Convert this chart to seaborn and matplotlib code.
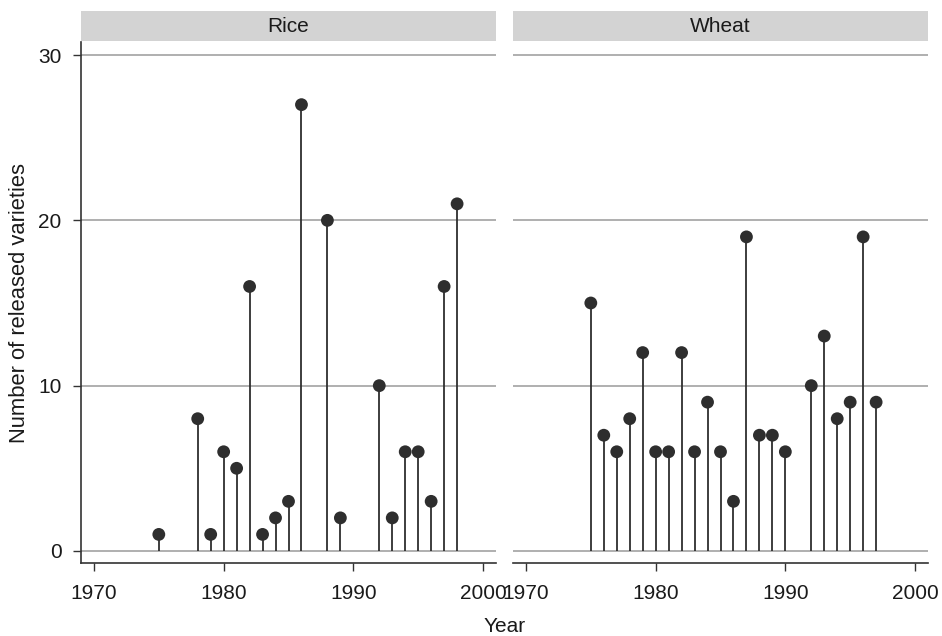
import matplotlib
matplotlib.use("Agg")
import matplotlib.pyplot as plt
import seaborn as sns
import pandas as pd
from matplotlib.patches import Rectangle

rice_years = [1975, 1978, 1979, 1980, 1981, 1982, 1983, 1984, 1985, 1986,
              1988, 1989, 1992, 1993, 1994, 1995, 1996, 1997, 1998]
rice_counts = [1, 8, 1, 6, 5, 16, 1, 2, 3, 27, 20, 2, 10, 2, 6, 6, 3, 16, 21]

wheat_years = [1975, 1976, 1977, 1978, 1979, 1980, 1981, 1982, 1983, 1984, 1985,
               1986, 1987, 1988, 1989, 1990, 1992, 1993, 1994, 1995, 1996, 1997]
wheat_counts = [15, 7, 6, 8, 12, 6, 6, 12, 6, 9, 6, 3, 19, 7, 7, 6, 10, 13, 8, 9, 19, 9]

panels = ["Rice", "Wheat"]
x_ticks = [1970, 1980, 1990, 2000]
y_ticks = [0, 10, 20, 30]

df = pd.concat([
    pd.DataFrame({"crop": "Rice", "year": rice_years, "n": rice_counts}),
    pd.DataFrame({"crop": "Wheat", "year": wheat_years, "n": wheat_counts}),
], ignore_index=True)

sns.set_theme(style="white")
plt.rcParams["font.family"] = ["Liberation Sans", "DejaVu Sans"]

W, H = 942, 636
g = sns.FacetGrid(df, col="crop", col_order=panels, sharex=True, sharey=True,
                  height=H / 100, aspect=(W / 2) / H, despine=False)
fig = g.figure
fig.set_size_inches(W / 100, H / 100)
fig.set_dpi(100)

STEM = "#2e2e2e"
GRID = "#9a9a9a"
TXT = "#1a1a1a"
FS = 15


def stems(data, **kw):
    ax = plt.gca()
    for yv in y_ticks:
        ax.axhline(yv, color=GRID, lw=1.1, zorder=0)
    ax.vlines(data["year"], 0, data["n"], color=STEM, lw=1.3, zorder=2)
    sns.scatterplot(data=data, x="year", y="n", ax=ax, color=STEM, s=85,
                    edgecolor="none", zorder=3, legend=False)


g.map_dataframe(stems)

bottom_px, top_px = 563, 42
lefts = [(81, 496), (513, 928)]
for i, ax in enumerate(g.axes.flat):
    l, r = lefts[i]
    ax.set_position([l / W, (H - bottom_px) / H, (r - l) / W, (bottom_px - top_px) / H])
    ax.set_xlim(1969.0, 2001.0)
    ax.set_ylim(-0.73, 30.79)
    ax.set_xticks(x_ticks)
    ax.set_xticklabels([str(t) for t in x_ticks])
    ax.set_yticks(y_ticks)
    ax.grid(False)
    ax.set_title("")
    ax.set_xlabel("")
    ax.set_ylabel("")
    for s in ["top", "right"]:
        ax.spines[s].set_visible(False)
    ax.spines["bottom"].set_color("#333333")
    ax.spines["bottom"].set_linewidth(1.2)
    if i == 0:
        ax.spines["left"].set_color("#333333")
        ax.spines["left"].set_linewidth(1.2)
        ax.tick_params(axis="y", left=True, length=6, width=1, color="#333333",
                       labelsize=FS, labelcolor=TXT, pad=8)
    else:
        ax.spines["left"].set_visible(False)
        ax.tick_params(axis="y", left=False, labelleft=False)
    ax.tick_params(axis="x", bottom=True, length=6, width=1, color="#333333",
                   labelsize=FS, labelcolor=TXT, pad=9)
    hpx = bottom_px - top_px
    y0 = 1 + (bottom_px - 41 - hpx) / hpx
    y1 = 1 + (bottom_px - 11 - hpx) / hpx
    ax.add_patch(Rectangle((0, y0), 1, y1 - y0, transform=ax.transAxes,
                           facecolor="#d3d3d3", edgecolor="none", clip_on=False))
    ax.text(0.5, (y0 + y1) / 2, panels[i], transform=ax.transAxes, ha="center",
            va="center", fontsize=FS, color=TXT)

fig.text(20 / W, 1 - 303 / H, "Number of released varieties", rotation=90,
         ha="center", va="center", fontsize=15.8, color=TXT)
fig.text(505 / W, 1 - 627 / H, "Year", ha="center", va="center", fontsize=FS,
         color=TXT)

fig.savefig("out.png", dpi=100)
